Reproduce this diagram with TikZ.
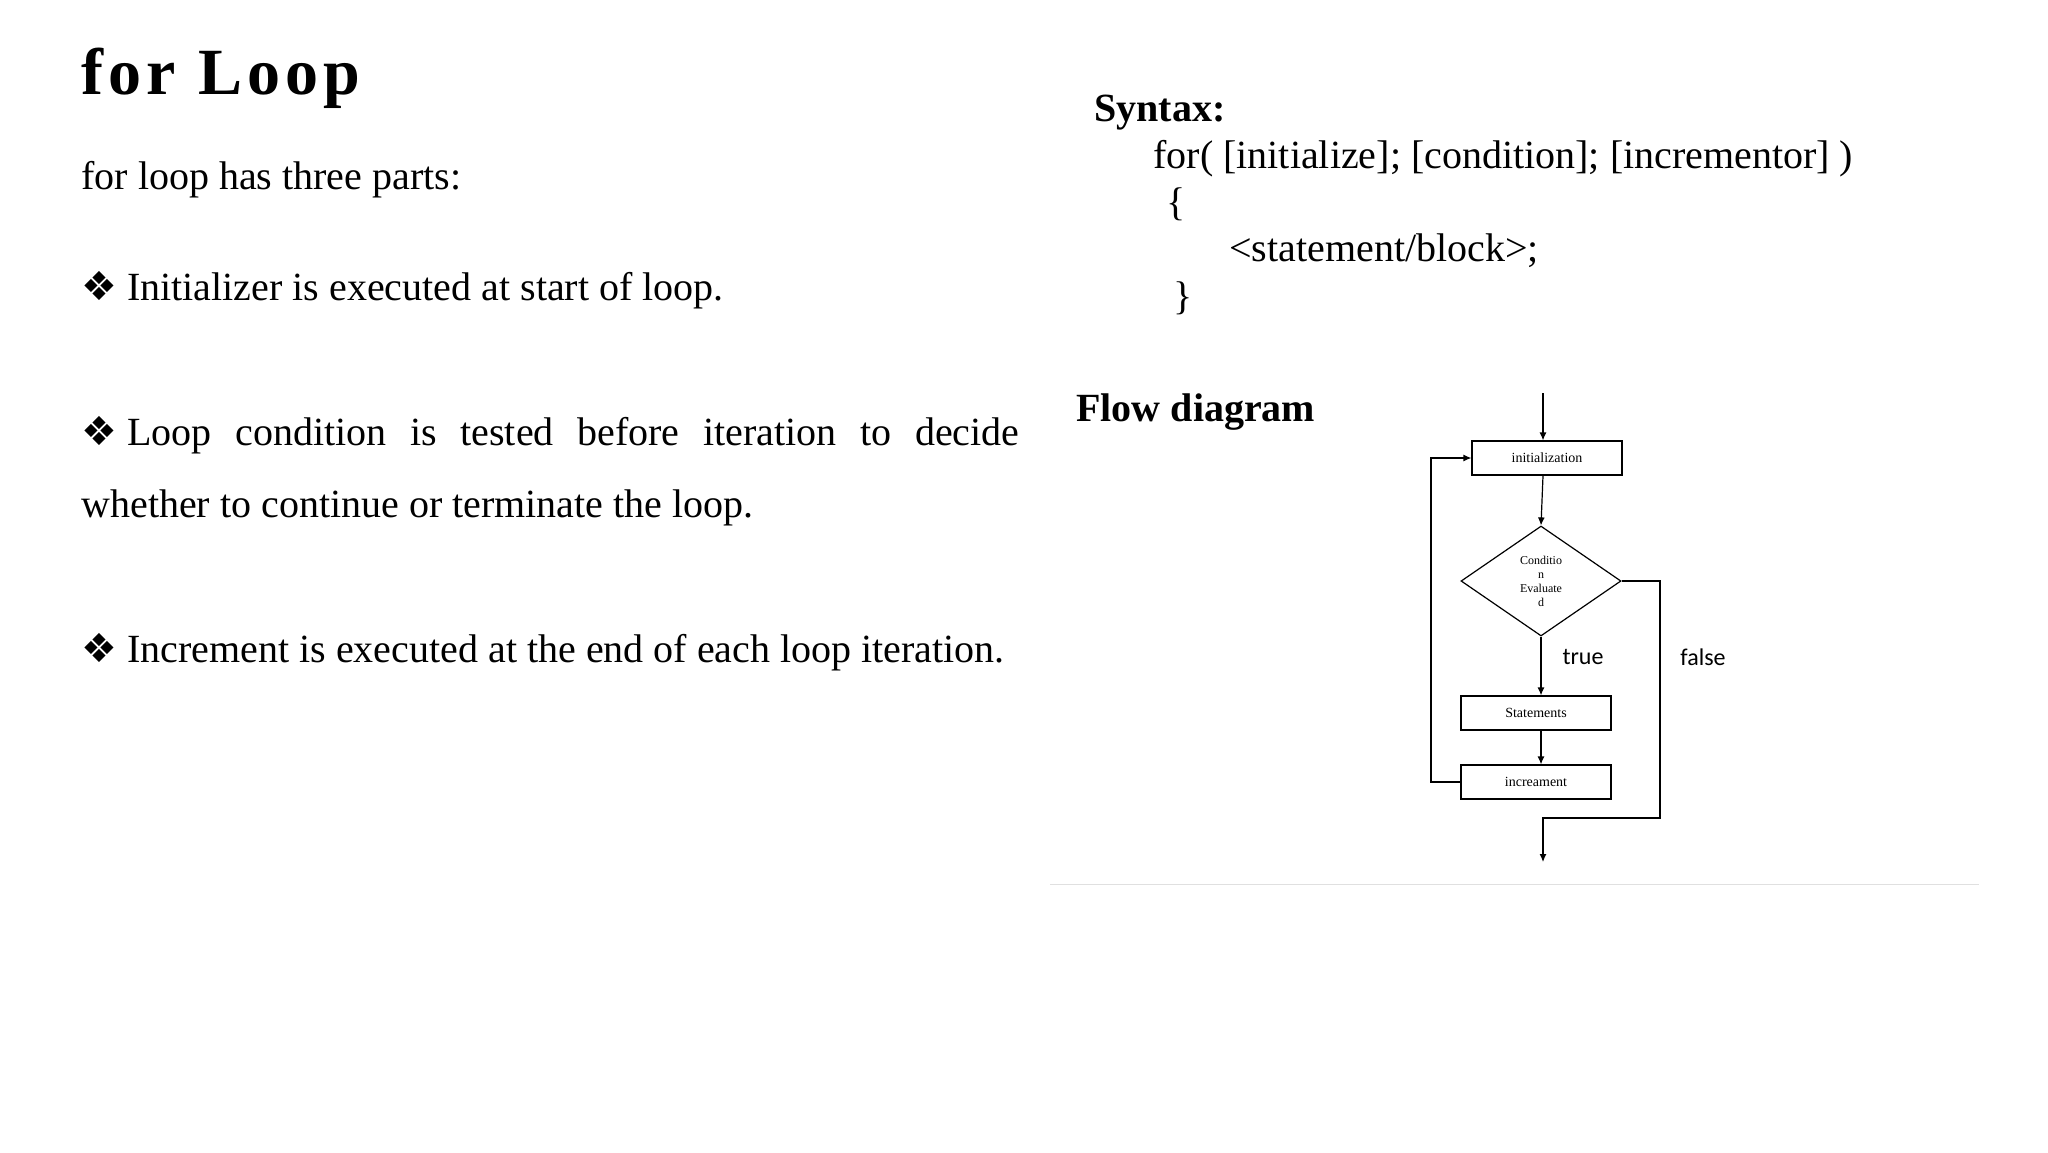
\documentclass[tikz,border=0pt]{standalone}
\usepackage{fontspec}
\setmainfont{Liberation Serif}
\newfontfamily\symf{DejaVu Sans}
\newfontfamily\carl{Carlito}
\usetikzlibrary{shapes.geometric,arrows.meta}
\begin{document}
\begin{tikzpicture}[x=0.5pt,y=-0.5pt,
  body/.style={anchor=base west,inner sep=0pt,font=\fontsize{20}{24}\selectfont},
  fbox/.style={draw,line width=0.6pt,inner sep=0pt,minimum width=75pt,minimum height=17pt,font=\fontsize{7}{8}\selectfont},
  arr/.style={line width=0.6pt,-{Latex[length=4pt,width=3.5pt]}},
  ln/.style={line width=0.6pt}]
\useasboundingbox (0,0) rectangle (2048,1152);
\node[anchor=base west,inner sep=0pt,font=\fontsize{33}{36}\selectfont\bfseries\addfontfeatures{LetterSpace=8}] (title) at (81,94) {for Loop};
\node[body] (intro) at (81,189) {for loop has three parts:};
\node[body] (b1) at (81,300) {{\symf ❖} Initializer is executed at start of loop.};
\node[body] (b2a) at (81,445) {\hbox to 469pt{{\symf ❖} Loop\hfill condition\hfill is\hfill tested\hfill before\hfill iteration\hfill to\hfill decide}};
\node[body] (b2b) at (81,517) {whether to continue or terminate the loop.};
\node[body] (b3) at (81,662) {{\symf ❖} Increment is executed at the end of each loop iteration.};
\node[body,font=\fontsize{20}{24}\selectfont\bfseries] (syn) at (1094,121) {Syntax:};
\node[body] (s1) at (1153,168) {for( [initialize]; [condition]; [incrementor] )};
\node[body] (s2) at (1166,215) {\{};
\node[body] (s3) at (1229,261) {<statement/block>;};
\node[body] (s4) at (1173,309) {\}};
\node[body,font=\fontsize{20}{24}\selectfont\bfseries] (fd) at (1076,421) {Flow diagram};
\draw[line width=0.5pt,black!12] (1050,884) -- (1979,884);
% flowchart
\coordinate (start) at (1543,393);
\node[fbox] (init) at (1547,458) {initialization};
\node[draw,line width=0.6pt,diamond,aspect=1.45,minimum width=80pt,minimum height=55pt,inner sep=0pt,align=center,font=\fontsize{6}{7}\selectfont] (cond) at (1541,581) {Conditio\\n\\Evaluate\\d};
\node[fbox] (stat) at (1536,713) {Statements};
\node[fbox] (inc) at (1536,782) {increament};
\coordinate (endp) at (1543,862);
\draw[arr] (start) -- (init.north -| start);
\draw[arr] (init.south -| start) -- (cond.north);
\draw[arr] (cond.south) -- (stat.north -| cond.south);
\draw[arr] (stat.south -| cond.south) -- (inc.north -| cond.south);
\draw[arr] (inc.west) -- (1431,782) -- (1431,458) -- (init.west);
\draw[arr] (cond.east) -- (1660,581) -- (1660,818) -- (1543,818) -- (endp);
\node[font=\carl\fontsize{12}{14}\selectfont,inner sep=0pt] (tl) at (1583,657) {true};
\node[font=\carl\fontsize{12}{14}\selectfont,inner sep=0pt] (fl) at (1703,657) {false};
\end{tikzpicture}
\end{document}
